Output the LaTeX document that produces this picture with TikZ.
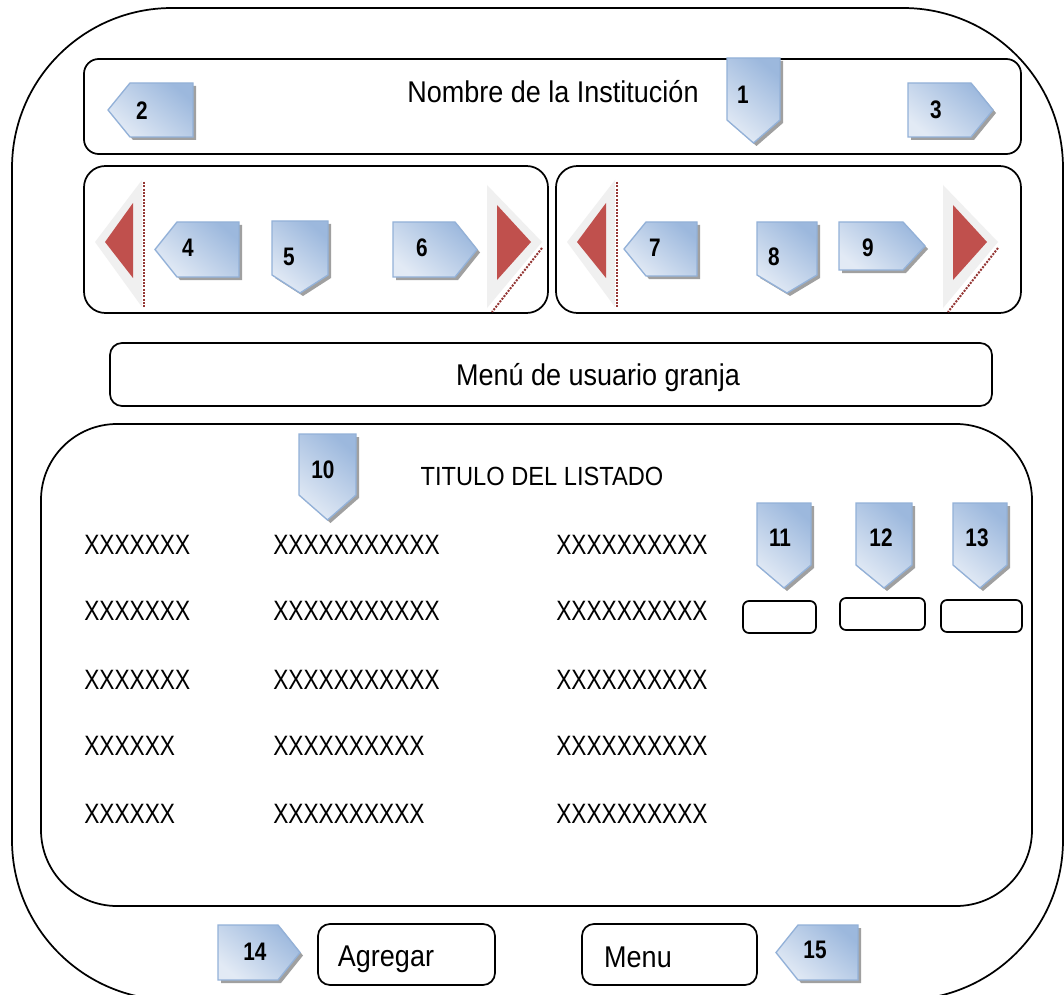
\documentclass[tikz,border=0pt]{standalone}
\usepackage{fontspec}
\setmainfont{Liberation Sans}[FakeStretch=0.9]
\newfontfamily\xfont{Liberation Sans}[FakeStretch=0.81]
\newfontfamily\numfont{Liberation Sans}[FakeStretch=0.82]
\definecolor{calA}{HTML}{E2EAF5}
\definecolor{calB}{HTML}{9CB8DD}
\definecolor{calEdge}{HTML}{93B1D8}
\definecolor{calShadow}{HTML}{A0A0A0}
\definecolor{triRed}{HTML}{C0504D}
\definecolor{triGrey}{HTML}{F0F0F0}
\definecolor{triShadow}{HTML}{943634}
\tikzset{
  frame/.style={draw=black, line width=1.3pt},
  callout/.style={draw=calEdge, line width=1pt, top color=calB, bottom color=calA, shading angle=-40},
  calshadow/.style={fill=calShadow},
  num/.style={font=\numfont\bfseries\fontsize{19}{22}\selectfont, inner sep=0pt},
  maintext/.style={font=\fontsize{22.5}{27}\selectfont, inner sep=0pt},
  xtext/.style={font=\xfont\fontsize{21}{25}\selectfont, inner sep=0pt, anchor=west},
}
% down-pointing shield: L R top shoulder tip
\newcommand\cshD[5]{%
  \begin{scope}[shift={(3,3)}]\fill[calshadow] (#1,#3)--(#2,#3)--(#2,#4)--({(#1+#2)/2},#5)--(#1,#4)--cycle;\end{scope}
  \path[callout] (#1,#3)--(#2,#3)--(#2,#4)--({(#1+#2)/2},#5)--(#1,#4)--cycle;}
% left-pointing: tip x, top, right, bottom
\newcommand\cshL[4]{%
  \begin{scope}[shift={(3,3)}]\fill[calshadow] (#1,{(#2+#4)/2})--({#1+22},#2)--(#3,#2)--(#3,#4)--({#1+22},#4)--cycle;\end{scope}
  \path[callout] (#1,{(#2+#4)/2})--({#1+22},#2)--(#3,#2)--(#3,#4)--({#1+22},#4)--cycle;}
% right-pointing: left, top, tip x, bottom
\newcommand\cshR[4]{%
  \begin{scope}[shift={(3,3)}]\fill[calshadow] (#1,#2)--({#3-22},#2)--(#3,{(#2+#4)/2})--({#3-22},#4)--(#1,#4)--cycle;\end{scope}
  \path[callout] (#1,#2)--({#3-22},#2)--(#3,{(#2+#4)/2})--({#3-22},#4)--(#1,#4)--cycle;}
% left-pointing red triangle: tip x, back x, mid y
\newcommand\triL[3]{%
  \fill[triGrey] (#1,#3)--(#2,{#3-62})--(#2,{#3+65})--cycle;
  \draw[triShadow, line width=1.5pt, densely dotted] ({#2+2},{#3-60})--({#2+2},{#3+65});
  \fill[triRed] ({#1+10},#3)--({#2-9},{#3-39})--({#2-9},{#3+36})--cycle;}
% right-pointing red triangle: back x, tip x, mid y
\newcommand\triR[3]{%
  \fill[triGrey] (#1,{#3-57})--(#1,{#3+66})--(#2,#3)--cycle;
  \draw[triShadow, line width=1.5pt, densely dotted] ({#2},{#3+6})--({#1+5},{#3+70});
  \fill[triRed] ({#1+10},{#3-37})--({#1+10},{#3+38})--({#2-11},#3)--cycle;}
\begin{document}
\begin{tikzpicture}[x=0.75pt,y=-0.75pt]
\useasboundingbox (0,0) rectangle (1064,995);
\clip (0,0) rectangle (1064,995);
\fill[white] (0,0) rectangle (1064,995);
% outer frame
\draw[frame, rounded corners=120pt] (12,8) rectangle (1063,1000);
% header
\draw[frame, rounded corners=11pt] (84,59) rectangle (1021,154);
\node[maintext] (title) at (553,92) {Nombre de la Institución};
% nav boxes
\draw[frame, rounded corners=16pt] (84,166) rectangle (548,313);
\draw[frame, rounded corners=16pt] (556,166) rectangle (1021,313);
% menu bar
\draw[frame, rounded corners=9pt] (110,343) rectangle (992,406);
\node[maintext] (menubar) at (598,378) {Menú de usuario granja};
% listing
\draw[frame, rounded corners=57pt] (41,424) rectangle (1032,906);
\node[maintext, font=\fontsize{19.7}{24}\selectfont] (listtitle) at (542,476) {TITULO DEL LISTADO};
% rows
\node[xtext] (r1a) at (84,545) {XXXXXXX};
\node[xtext] (r1b) at (273,545) {XXXXXXXXXXX};
\node[xtext] (r1c) at (556,545) {XXXXXXXXXX};
\node[xtext] (r2a) at (84,611) {XXXXXXX};
\node[xtext] (r2b) at (273,611) {XXXXXXXXXXX};
\node[xtext] (r2c) at (556,611) {XXXXXXXXXX};
\node[xtext] (r3a) at (84,680) {XXXXXXX};
\node[xtext] (r3b) at (273,680) {XXXXXXXXXXX};
\node[xtext] (r3c) at (556,680) {XXXXXXXXXX};
\node[xtext] (r4a) at (84,746) {XXXXXX};
\node[xtext] (r4b) at (273,746) {XXXXXXXXXX};
\node[xtext] (r4c) at (556,746) {XXXXXXXXXX};
\node[xtext] (r5a) at (84,814) {XXXXXX};
\node[xtext] (r5b) at (273,814) {XXXXXXXXXX};
\node[xtext] (r5c) at (556,814) {XXXXXXXXXX};
% small boxes
\draw[frame, rounded corners=4.5pt] (743,601) rectangle (816,633);
\draw[frame, rounded corners=4.5pt] (840,598) rectangle (925,630);
\draw[frame, rounded corners=4.5pt] (941,600) rectangle (1022,632);
% bottom buttons
\draw[frame, rounded corners=9pt] (318,924) rectangle (495,985);
\node[maintext] (agregar) at (386,959) {Agregar};
\draw[frame, rounded corners=9pt] (582,924) rectangle (757,985);
\node[maintext] (menu) at (638,957) {Menu};
% red triangles
\triL{95}{142}{242}
\triR{487}{542}{242}
\triL{567}{615}{242}
\triR{943}{998}{242}
% callouts
\cshD{727}{780}{58}{120}{143}
\node[num] (c1) at (743,95) {1};
\cshL{108}{83}{193}{137}
\node[num] (c2) at (142,111) {2};
\cshR{908}{83}{993}{137}
\node[num] (c3) at (936,110) {3};
\cshL{155}{222}{239}{277}
\node[num] (c4) at (188,248) {4};
\cshD{272}{328}{221}{275}{293}
\node[num] (c5) at (289,257) {5};
\cshR{393}{222}{477}{277}
\node[num] (c6) at (422,248) {6};
\cshL{624}{222}{697}{276}
\node[num] (c7) at (655,248) {7};
\cshD{757}{817}{222}{275}{293}
\node[num] (c8) at (774,257) {8};
\cshR{839}{222}{925}{270}
\node[num] (c9) at (868,248) {9};
\cshD{299}{356}{434}{495}{520}
\node[num] (c10) at (323,470) {10};
\cshD{757}{811}{503}{565}{588}
\node[num] (c11) at (780,538) {11};
\cshD{856}{912}{503}{565}{588}
\node[num] (c12) at (881,538) {12};
\cshD{953}{1007}{503}{565}{588}
\node[num] (c13) at (977,538) {13};
\cshR{218}{925}{300}{980}
\node[num] (c14) at (255,952) {14};
\cshL{776}{925}{858}{980}
\node[num] (c15) at (815,950) {15};
\end{tikzpicture}
\end{document}
